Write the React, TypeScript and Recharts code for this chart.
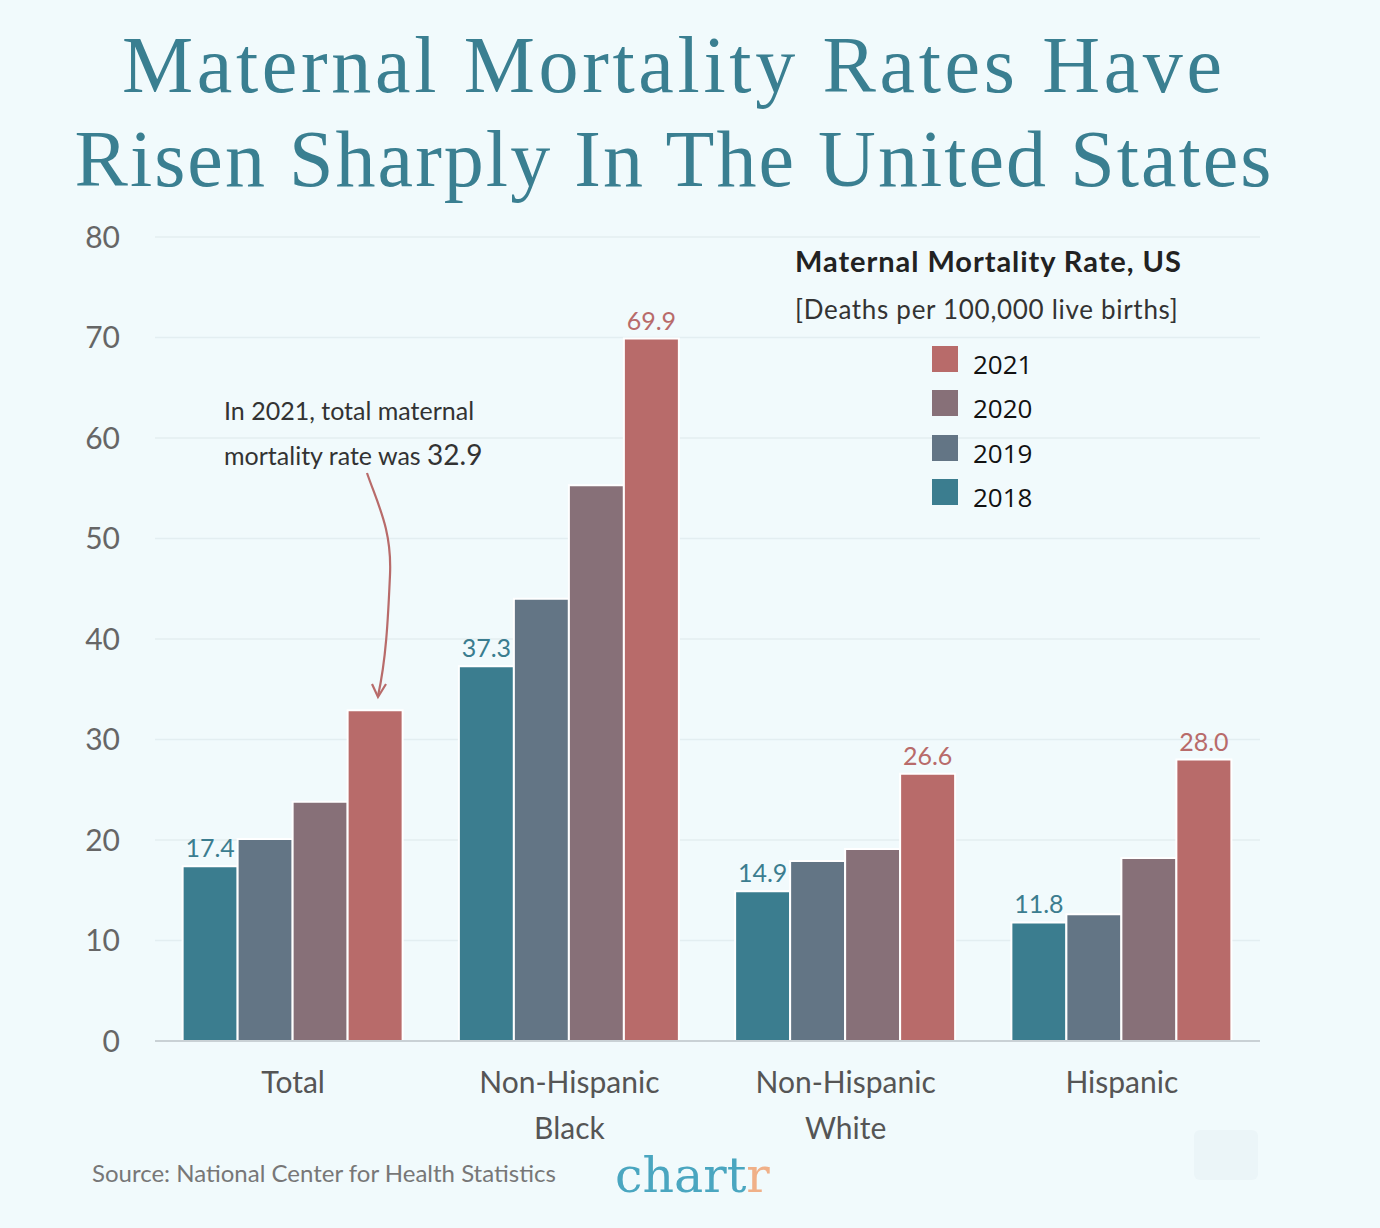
import React from "react"
import { Bar, BarChart, XAxis, YAxis, CartesianGrid, LabelList } from "recharts"

const categories = ["Total", "Non-Hispanic\nBlack", "Non-Hispanic\nWhite", "Hispanic"]
const rate2018 = [17.4, 37.3, 14.9, 11.8]
const rate2019 = [20.1, 44.0, 17.9, 12.6]
const rate2020 = [23.8, 55.3, 19.1, 18.2]
const rate2021 = [32.9, 69.9, 26.6, 28.0]
const yTicks = [0, 10, 20, 30, 40, 50, 60, 70, 80]

const series = [
  { key: "y2018", name: "2018", color: "#3b7d8f" },
  { key: "y2019", name: "2019", color: "#637585" },
  { key: "y2020", name: "2020", color: "#877078" },
  { key: "y2021", name: "2021", color: "#b86b6a" },
]

const data = categories.map((c, i) => ({
  name: c,
  y2018: rate2018[i],
  y2019: rate2019[i],
  y2020: rate2020[i],
  y2021: rate2021[i],
}))

const BG = "#f1fafc"
const FONT = "Lato, 'Noto Sans', sans-serif"

const CategoryTick = (props: any) => {
  const { x, y, payload } = props
  const lines = String(payload.value).split("\n")
  return (
    <g>
      {lines.map((l, i) => (
        <text key={i} x={x} y={y + 52 + i * 46} textAnchor="middle" fill="#555" fontSize={30} fontFamily={FONT}>
          {l}
        </text>
      ))}
    </g>
  )
}

// value labels: only 2018 and 2021 (2021 Total is annotated instead)
const makeLabel = (color: string, skipFirst: boolean) => (props: any) => {
  const { x, y, width, value, index } = props
  if (skipFirst && index === 0) return null
  return (
    <text x={x + width / 2} y={y - 9} textAnchor="middle" fill={color} fontSize={25} fontFamily={FONT}>
      {Number(value).toFixed(1)}
    </text>
  )
}

const LegendBox = () => (
  <div style={{ position: "absolute", left: 795, top: 243, fontFamily: FONT, width: 420 }}>
    <div style={{ fontSize: 29, color: "#222", fontWeight: 700, lineHeight: "36px", letterSpacing: 0.95 }}>
      Maternal Mortality Rate, US
    </div>
    <div style={{ fontSize: 26, color: "#333", lineHeight: "34px", marginTop: 13, letterSpacing: 0.7 }}>
      [Deaths per 100,000 live births]
    </div>
    <div style={{ marginTop: 11, marginLeft: 137 }}>
      {[...series].reverse().map((s) => (
        <div key={s.key} style={{ display: "flex", alignItems: "center", height: 44.3 }}>
          <div style={{ width: 26, height: 26, background: s.color, marginRight: 15 }} />
          <span style={{ fontSize: 26, color: "#111", fontFamily: "'Open Sans', sans-serif", marginTop: 10 }}>{s.name}</span>
        </div>
      ))}
    </div>
  </div>
)

export default function App() {
  return (
    <div style={{ position: "absolute", left: 0, top: 0, width: 1380, height: 1228, background: BG, overflow: "hidden" }}>
      <svg width={1380} height={210} style={{ position: "absolute", left: 0, top: 0 }}>
        <text x={672} y={92} textAnchor="middle" fill="#3a7f91" fontSize={80} fontFamily="'Liberation Serif', serif" textLength={1100} lengthAdjust="spacing">
          Maternal Mortality Rates Have
        </text>
        <text x={673} y={186} textAnchor="middle" fill="#3a7f91" fontSize={80} fontFamily="'Liberation Serif', serif" textLength={1197} lengthAdjust="spacing">
          Risen Sharply In The United States
        </text>
      </svg>
      <div style={{ position: "absolute", left: 0, top: 0 }}>
        <BarChart
          width={1380}
          height={1228}
          data={data}
          margin={{ top: 237, right: 120, bottom: 127, left: 95 }}
          barCategoryGap="10%"
          barGap={0}
        >
          <CartesianGrid vertical={false} stroke="#e3eef1" strokeWidth={1.5} />
          <XAxis
            dataKey="name"
            height={60}
            tickLine={false}
            tickSize={0}
            tickMargin={0}
            axisLine={{ stroke: "#c9d1d5", strokeWidth: 2 }}
            tick={<CategoryTick />}
            interval={0}
          />
          <YAxis
            width={60}
            domain={[0, 80]}
            ticks={yTicks}
            tickLine={false}
            axisLine={false}
            tickSize={0}
            tickMargin={35}
            tick={{ fill: "#666", fontSize: 30, fontFamily: FONT }}
          />
          {series.map((s) => (
            <Bar key={s.key} dataKey={s.key} name={s.name} fill={s.color} stroke="#ffffff" strokeWidth={2} isAnimationActive={false}>
              {s.key === "y2018" && <LabelList dataKey={s.key} content={makeLabel(s.color, false)} />}
              {s.key === "y2021" && <LabelList dataKey={s.key} content={makeLabel(s.color, true)} />}
            </Bar>
          ))}
        </BarChart>
      </div>
      <LegendBox />
      <svg width={1380} height={1228} style={{ position: "absolute", left: 0, top: 0, pointerEvents: "none" }}>
        <text x={224} y={420} fill="#333" fontSize={25} fontFamily={FONT}>
          In 2021, total maternal
        </text>
        <text x={224} y={465} fill="#333" fontSize={25} fontFamily={FONT}>
          mortality rate was <tspan fontSize={28}>32.9</tspan>
        </text>
        <path d="M367 473 C 378 505, 392 530, 390 575 C 388 620, 386 660, 378 696" fill="none" stroke="#b86b6a" strokeWidth={2.2} />
        <path d="M372 684 L 378 697 L 386 684" fill="none" stroke="#b86b6a" strokeWidth={2.2} />
        <text x={92} y={1182} fill="#777" fontSize={24} fontFamily={FONT}>
          Source: National Center for Health Statistics
        </text>
        <text x={615} y={1192} fontSize={49} fontFamily="'DejaVu Serif', serif">
          <tspan fill="#4aa6c0">chart</tspan>
          <tspan fill="#f0b088">r</tspan>
        </text>
        <rect x={1194} y={1130} width={64} height={50} rx={6} fill="#ebf5f8" />
      </svg>
    </div>
  )
}
